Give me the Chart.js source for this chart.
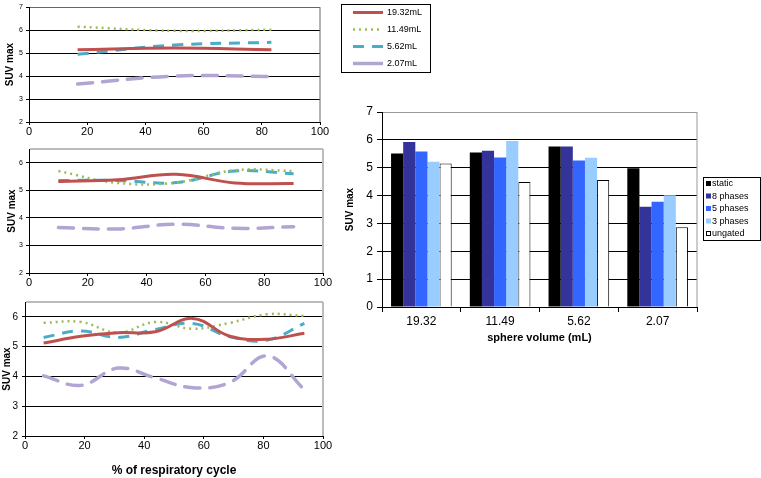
<!DOCTYPE html>
<html lang="en">
<head>
<meta charset="UTF-8">
<title>SUV max</title>
<script src="https://cdn.jsdelivr.net/npm/chart.js"></script>
<style>
    body { margin: 0; background: #fff; }
    canvas { position: absolute; }
</style>
</head>
<body>
<canvas id="c1" width="440" height="140" style="left:0;top:0"></canvas>
<canvas id="c2" width="335" height="150" style="left:0;top:140px"></canvas>
<canvas id="c3" width="335" height="188" style="left:0;top:290px"></canvas>
<canvas id="c4" width="431" height="250" style="left:330px;top:100px"></canvas>

<script>
    // sphere volumes (line legend)
    const volumes = ['19.32mL', '11.49mL', '5.62mL', '2.07mL'];

    // 3 phases
    const x3 = [16.7, 50, 83.3];
    const p3_1932 = [5.15, 5.22, 5.15];
    const p3_1149 = [6.15, 5.97, 6.02];
    const p3_562 = [4.95, 5.35, 5.47];
    const p3_207 = [3.65, 4.0, 3.98];

    // 5 phases
    const x5 = [10, 30, 50, 70, 90];
    const p5_1932 = [5.32, 5.38, 5.58, 5.27, 5.25];
    const p5_1149 = [5.7, 5.27, 5.28, 5.73, 5.7];
    const p5_562 = [5.36, 5.36, 5.28, 5.7, 5.6];
    const p5_207 = [3.65, 3.6, 3.77, 3.62, 3.68];

    // 8 phases
    const x8 = [6.25, 18.75, 31.25, 43.75, 56.25, 68.75, 81.25, 93.75];
    const p8_1932 = [5.12, 5.35, 5.47, 5.5, 5.95, 5.35, 5.25, 5.45];
    const p8_1149 = [5.8, 5.83, 5.47, 5.83, 5.6, 5.8, 6.09, 6.03];
    const p8_562 = [5.31, 5.53, 5.31, 5.58, 5.78, 5.33, 5.22, 5.78];
    const p8_207 = [4.02, 3.7, 4.28, 3.95, 3.62, 3.8, 4.69, 3.56];

    // bar chart
    const sphereVols = ['19.32', '11.49', '5.62', '2.07'];
    const staticVals = [5.51, 5.55, 5.76, 4.98];
    const phases8 = [5.92, 5.61, 5.76, 3.60];
    const phases5 = [5.58, 5.37, 5.26, 3.78];
    const phases3 = [5.21, 5.96, 5.36, 4.01];
    const ungated = [5.15, 4.49, 4.56, 2.86];

    Chart.defaults.font.family = '"Liberation Sans", Arial, sans-serif';
    Chart.defaults.color = '#000';

    // right edge of the plot area
    const frame = {
        id: 'frame',
        afterDraw(chart, args, opts) {
            const a = chart.chartArea, ctx = chart.ctx;
            ctx.save();
            ctx.strokeStyle = opts.color || '#888';
            ctx.lineWidth = opts.width || 1;
            ctx.beginPath();
            ctx.moveTo(a.right, a.top);
            ctx.lineTo(a.right, a.bottom);
            ctx.stroke();
            ctx.restore();
        }
    };

    // boxed legend with line samples
    const lineKey = {
        id: 'lineKey',
        afterDraw(chart, args, o) {
            if (!o || !o.box) return;
            const ctx = chart.ctx, b = o.box;
            ctx.save();
            ctx.strokeStyle = '#000';
            ctx.lineWidth = 1;
            ctx.strokeRect(b.x + 0.5, b.y + 0.5, b.w, b.h);
            ctx.font = '9px "Liberation Sans", Arial';
            ctx.textBaseline = 'middle';
            ctx.fillStyle = '#000';
            chart.data.datasets.forEach((ds, i) => {
                const y = b.y + o.first + i * o.step;
                ctx.beginPath();
                ctx.setLineDash(i === 3 ? [] : (ds.borderDash || []));
                ctx.strokeStyle = ds.borderColor;
                ctx.lineWidth = ds.borderWidth;
                ctx.lineCap = 'butt';
                ctx.moveTo(b.x + o.lx, y);
                ctx.lineTo(b.x + o.lx + o.len, y);
                ctx.stroke();
                ctx.setLineDash([]);
                ctx.fillText(ds.label, b.x + o.tx, y);
            });
            ctx.restore();
        }
    };

    // boxed legend with squares
    const barKey = {
        id: 'barKey',
        afterDraw(chart, args, o) {
            const ctx = chart.ctx, b = o.box;
            ctx.save();
            ctx.strokeStyle = '#000';
            ctx.lineWidth = 1;
            ctx.strokeRect(b.x + 0.5, b.y + 0.5, b.w, b.h);
            ctx.font = '9px "Liberation Sans", Arial';
            ctx.textBaseline = 'middle';
            chart.data.datasets.forEach((ds, i) => {
                const y = b.y + o.first + i * o.step;
                ctx.fillStyle = ds.backgroundColor;
                ctx.fillRect(b.x + 3, y - 3, 5, 5);
                if (ds.borderWidth) {
                    ctx.strokeStyle = '#000';
                    ctx.strokeRect(b.x + 3.5, y - 2.5, 4, 4);
                }
                ctx.fillStyle = '#000';
                ctx.fillText(ds.label, b.x + 9, y);
            });
            ctx.restore();
        }
    };

    function lineSets(xs, a, b, c, d) {
        const pts = arr => arr.map((v, i) => ({x: xs[i], y: v}));
        return [
            {label: volumes[0], data: pts(a), borderColor: '#c0504d', borderWidth: 3},
            {label: volumes[1], data: pts(b), borderColor: '#9bbb59', borderWidth: 2.5, borderDash: [2, 4]},
            {label: volumes[2], data: pts(c), borderColor: '#4bacc6', borderWidth: 3, borderDash: [11, 8]},
            {label: volumes[3], data: pts(d), borderColor: '#b2a5d3', borderWidth: 3.5, borderDash: [15, 10], borderCapStyle: 'round'}
        ];
    }

    function lineOpts(o) {
        return {
            responsive: false,
            animation: false,
            layout: {padding: {top: o.top, right: o.right, left: 0, bottom: 0}},
            elements: {point: {radius: 0}, line: {tension: 0.4, fill: false}},
            plugins: {
                legend: {display: false},
                tooltip: {enabled: false},
                frame: {color: o.edge, width: o.edgeW},
                lineKey: o.key || false
            },
            scales: {
                x: {
                    type: 'linear', min: 0, max: 100,
                    ticks: {stepSize: 20, font: {size: 11}, padding: o.xpad, maxRotation: 0},
                    grid: {drawOnChartArea: false, tickLength: 3, color: '#000'},
                    border: {color: '#000'},
                    title: o.xtitle ? {display: true, text: o.xtitle, font: {size: 12, weight: 'bold'}, padding: {top: 0, bottom: 0}} : {display: false},
                    afterFit: s => { s.height = o.xh; }
                },
                y: {
                    min: 2, max: o.ymax,
                    ticks: {stepSize: 1, font: {size: o.yfont}, padding: o.ypad,
                        callback: v => Number.isInteger(v) ? v : ''},
                    grid: {
                        color: c => c.tick.value === o.ymax ? o.edge : '#000',
                        lineWidth: c => c.tick.value === o.ymax ? o.edgeW : 1,
                        tickColor: c => Number.isInteger(c.tick.value) ? '#000' : 'rgba(0,0,0,0)',
                        tickLength: 3
                    },
                    border: {color: '#000'},
                    title: {display: true, text: 'SUV max', font: {size: 10, weight: 'bold'}, padding: {top: o.tpad, bottom: 0}},
                    afterFit: s => { s.width = o.yw; }
                }
            }
        };
    }

    new Chart(document.getElementById('c1'), {
        type: 'line',
        data: {datasets: lineSets(x3, p3_1932, p3_1149, p3_562, p3_207)},
        options: lineOpts({top: 4, right: 120, xh: 18, yw: 29, ymax: 7, yfont: 7, ypad: 3, xpad: 0, tpad: 4,
            edge: '#666', edgeW: 1,
            key: {box: {x: 341, y: 4, w: 89, h: 68}, first: 8.5, step: 17, lx: 12, len: 30, tx: 46}}),
        plugins: [frame, lineKey]
    });

    new Chart(document.getElementById('c2'), {
        type: 'line',
        data: {datasets: lineSets(x5, p5_1932, p5_1149, p5_562, p5_207)},
        options: lineOpts({top: 9, right: 12, xh: 17, yw: 29, ymax: 6.5, yfont: 7, ypad: 3, xpad: 0, tpad: 6,
            edge: '#bbb', edgeW: 2}),
        plugins: [frame]
    });

    new Chart(document.getElementById('c3'), {
        type: 'line',
        data: {datasets: lineSets(x8, p8_1932, p8_1149, p8_562, p8_207)},
        options: lineOpts({top: 12, right: 12, xh: 42, yw: 25, ymax: 6.5, yfont: 10, ypad: 4, xpad: 0, tpad: 1,
            edge: '#bbb', edgeW: 2, xtitle: '% of respiratory cycle'}),
        plugins: [frame]
    });

    new Chart(document.getElementById('c4'), {
        type: 'bar',
        data: {
            labels: sphereVols,
            datasets: [
                {label: 'static', data: staticVals, backgroundColor: '#000000'},
                {label: '8 phases', data: phases8, backgroundColor: '#333399'},
                {label: '5 phases', data: phases5, backgroundColor: '#3366ff'},
                {label: '3 phases', data: phases3, backgroundColor: '#99ccff'},
                {label: 'ungated', data: ungated, backgroundColor: '#ffffff', borderColor: '#000', borderWidth: 1}
            ]
        },
        options: {
            responsive: false,
            animation: false,
            layout: {padding: {top: 12, right: 64, left: 0, bottom: 0}},
            datasets: {bar: {barPercentage: 1, categoryPercentage: 0.77}},
            plugins: {
                legend: {display: false},
                tooltip: {enabled: false},
                frame: {color: '#999', width: 1},
                barKey: {box: {x: 373, y: 77, w: 57, h: 63}, first: 7, step: 12.5}
            },
            scales: {
                x: {
                    grid: {offset: true, drawOnChartArea: false, tickLength: 5, color: '#000'},
                    border: {color: '#000'},
                    ticks: {font: {size: 12}, padding: 2},
                    title: {display: true, text: 'sphere volume (mL)', font: {size: 11, weight: 'bold'}, padding: {top: 0, bottom: 5}},
                    afterFit: s => { s.height = 43; }
                },
                y: {
                    min: 0, max: 7,
                    ticks: {stepSize: 1, font: {size: 12}, padding: 4},
                    grid: {color: c => c.tick.value === 7 ? '#999' : '#000', tickColor: '#000', tickLength: 5},
                    border: {color: '#000'},
                    title: {display: true, text: 'SUV max', font: {size: 10, weight: 'bold'}, padding: {top: 14, bottom: 0}},
                    afterFit: s => { s.width = 52; }
                }
            }
        },
        plugins: [frame, barKey]
    });
</script>
</body>
</html>
